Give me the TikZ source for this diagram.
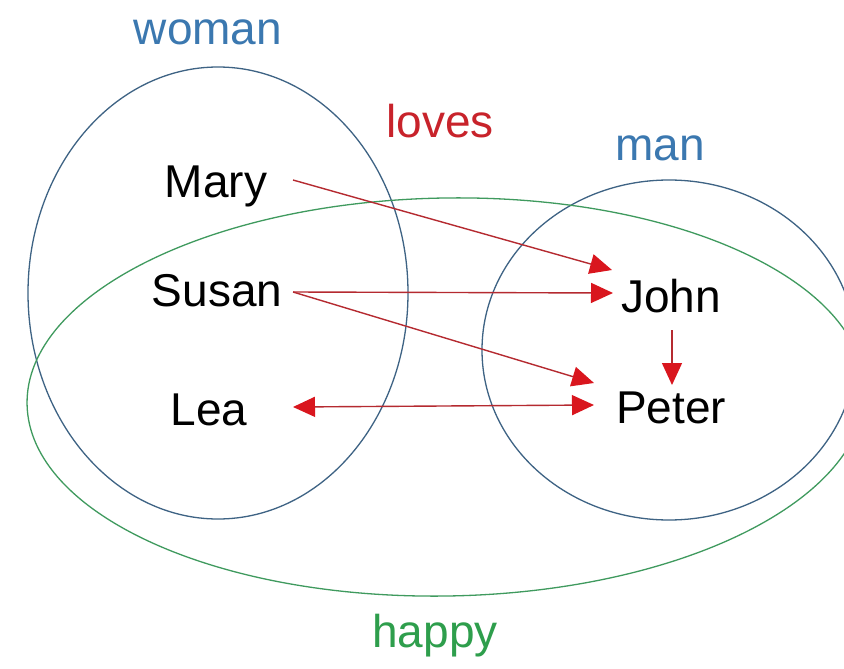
\documentclass[tikz,border=0pt]{standalone}
\usepackage{fontspec}
\setmainfont{Liberation Sans}
\usetikzlibrary{arrows.meta}
\definecolor{setline}{HTML}{3E6384}
\definecolor{happyline}{HTML}{3F9A5E}
\definecolor{blueText}{HTML}{3B78B0}
\definecolor{greenText}{HTML}{2E9E4C}
\definecolor{redText}{HTML}{C8232B}
\definecolor{arrowline}{HTML}{B52A30}
\definecolor{arrowhead}{HTML}{D9161E}
\begin{document}
\begin{tikzpicture}[x=1pt,y=1pt,
  lbl/.style={anchor=base,inner sep=0pt,font=\fontsize{46}{52}\selectfont},
  setname/.style={lbl,text=blueText},
  person/.style={lbl,text=black},
  setbound/.style={draw=setline,line width=1.3pt},
  happybound/.style={draw=happyline,line width=1.3pt},
  loveedge/.style={draw=arrowline,line width=1.4pt,
    -{Triangle[length=22pt,width=20pt,fill=arrowhead,color=arrowhead]}},
  loveboth/.style={draw=arrowline,line width=1.4pt,
    {Triangle[length=22pt,width=20pt,fill=arrowhead,color=arrowhead]}-{Triangle[length=22pt,width=20pt,fill=arrowhead,color=arrowhead]}}]
\useasboundingbox (0,0) rectangle (844,-669);
\fill[white] (0,0) rectangle (844,-669);
% sets
\path[setbound] (218,-293) ellipse [x radius=190pt, y radius=226pt];
\path[setbound] (669,-350) ellipse [x radius=187pt, y radius=170pt];
\path[happybound] (446,-397) ellipse [x radius=419pt, y radius=199pt, rotate=1];
% labels
\node[setname] (woman) at (208,-45) {woman};
\node[setname] (man) at (660,-160) {man};
\node[lbl,text=redText] (loves) at (440,-137) {loves};
\node[lbl,text=greenText] (happy) at (435,-647) {happy};
% people
\node[person] (Mary) at (216,-197) {Mary};
\node[person] (Susan) at (217,-306) {Susan};
\node[person] (Lea) at (209,-425) {Lea};
\node[person] (John) at (671,-312) {John};
\node[person] (Peter) at (671,-423) {Peter};
% loves relation
\draw[loveedge] ([shift={(77,17)}]Mary.base) -- ([shift={(-59,42)}]John.base);
\draw[loveedge] ([shift={(76,14)}]Susan.base) -- ([shift={(-58,19)}]John.base);
\draw[loveedge] ([shift={(76,14)}]Susan.base) -- ([shift={(-77,40)}]Peter.base);
\draw[loveboth] ([shift={(84,18)}]Lea.base) -- ([shift={(-77,18)}]Peter.base);
\draw[loveedge] ([shift={(1,-18)}]John.base) -- ([shift={(1,38)}]Peter.base);
\end{tikzpicture}
\end{document}
